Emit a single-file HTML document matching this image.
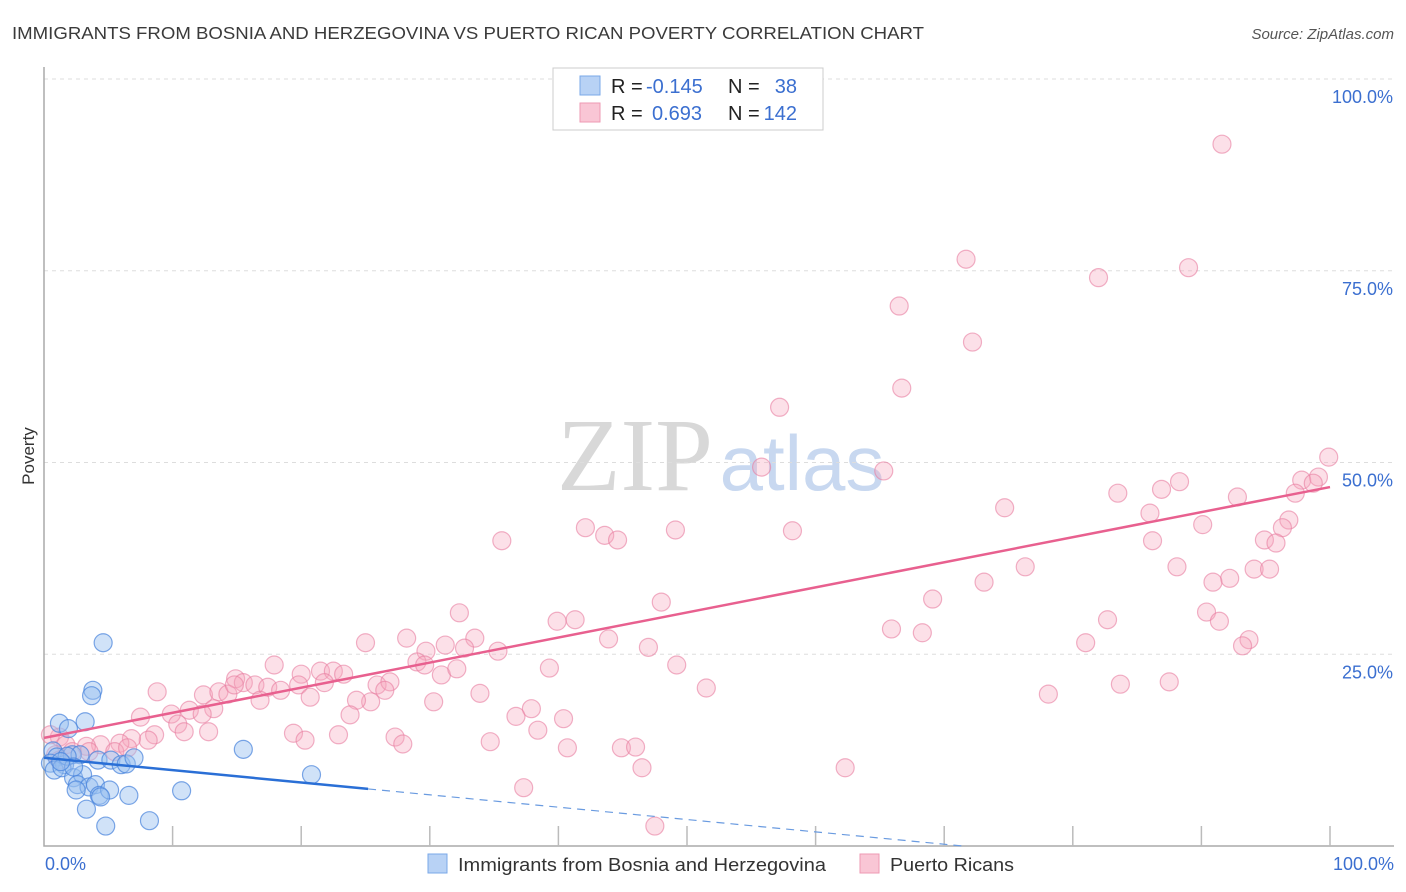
<!DOCTYPE html>
<html><head><meta charset="utf-8">
<style>
body{margin:0;background:#fff;font-family:"Liberation Sans",sans-serif;}
#wrap{position:relative;width:1406px;height:892px;overflow:hidden;}
</style></head>
<body>
<div id="wrap">
<svg id="svg" width="1406" height="892" xmlns="http://www.w3.org/2000/svg">
<text x="12" y="39" font-size="17.5" fill="#3a3a3a" textLength="912" lengthAdjust="spacingAndGlyphs">IMMIGRANTS FROM BOSNIA AND HERZEGOVINA VS PUERTO RICAN POVERTY CORRELATION CHART</text>
<text x="1394" y="39" font-size="15" font-style="italic" fill="#555" text-anchor="end">Source: ZipAtlas.com</text>
<text x="635" y="490" font-size="104" font-family="Liberation Serif,serif" fill="#d8d8d8" text-anchor="middle">ZIP</text>
<text x="802" y="490" font-size="78" fill="#c8d8f0" text-anchor="middle">atlas</text>
<text x="34" y="456" font-size="17" fill="#333" text-anchor="middle" transform="rotate(-90 34 456)">Poverty</text>
<g id="grid"></g>
<g id="pink"></g>
<g id="blue"></g>
<g id="lines"></g>
<g id="legend-top">
<rect x="553" y="68" width="270" height="62" fill="#fff" stroke="#ccc"/>
<rect x="580" y="76" width="20" height="19" fill="#b8d2f5" stroke="#7aa8e8"/>
<rect x="580" y="103" width="20" height="19" fill="#f9c6d5" stroke="#ee99b3"/>
<text x="611" y="93" font-size="20" fill="#222">R = </text><text x="646" y="93" font-size="20" fill="#3b6fd0">-0.145</text>
<text x="728" y="93" font-size="20" fill="#222">N = </text><text x="797" y="93" font-size="20" fill="#3b6fd0" text-anchor="end">38</text>
<text x="611" y="120" font-size="20" fill="#222">R = </text><text x="652" y="120" font-size="20" fill="#3b6fd0">0.693</text>
<text x="728" y="120" font-size="20" fill="#222">N = </text><text x="797" y="120" font-size="20" fill="#3b6fd0" text-anchor="end">142</text>
</g>
<g>
<rect x="428" y="854" width="19" height="19" fill="#b8d2f5" stroke="#7aa8e8"/>
<text x="458" y="871" font-size="18.5" fill="#333" textLength="368" lengthAdjust="spacingAndGlyphs">Immigrants from Bosnia and Herzegovina</text>
<rect x="860" y="854" width="19" height="19" fill="#f9c6d5" stroke="#ee99b3"/>
<text x="890" y="871" font-size="18.5" fill="#333" textLength="124" lengthAdjust="spacingAndGlyphs">Puerto Ricans</text>
</g>
</svg>
</div>
<script>
const pinkX=[91.6,71.7,82.0,89.0,66.5,72.2,66.7,57.2,55.8,65.3,99.9,99.1,97.8,98.7,97.3,83.5,86.9,88.3,92.8,86.0,74.7,96.8,96.3,94.9,95.8,90.1,86.2,42.1,43.6,44.6,49.1,58.2,35.6,76.3,88.1,94.1,95.3,92.2,90.9,73.1,69.1,90.4,91.4,82.7,48.0,32.3,39.9,41.3,65.9,68.3,93.7,93.2,81.0,43.9,47.0,25.0,28.2,31.2,33.5,29.7,32.7,35.3,29.0,29.6,17.9,20.0,21.5,22.5,23.3,19.8,25.9,26.9,26.5,30.9,32.1,39.3,49.2,14.9,15.5,16.4,17.4,18.4,21.8,20.7,12.4,13.6,14.3,14.8,8.8,16.8,25.4,24.3,30.3,33.9,37.9,36.7,51.5,78.1,83.7,87.5,13.2,11.3,12.3,7.5,9.9,10.4,23.8,40.4,10.9,12.8,19.4,20.3,22.9,27.3,27.9,38.4,8.6,8.1,6.8,5.9,4.4,3.3,5.5,6.5,3.5,34.7,40.7,44.9,46.0,46.5,62.3,37.3,47.5,1.2,1.7,2.2,0.9,1.2,0.5];
const pinkY=[91.5,76.5,74.1,75.4,70.4,65.7,59.7,57.2,49.4,48.9,50.7,48.1,47.7,47.3,46.0,46.0,46.5,47.5,45.5,43.4,44.1,42.5,41.5,39.9,39.5,41.9,39.8,41.5,40.5,39.9,41.2,41.1,39.8,36.4,36.4,36.1,36.1,34.9,34.4,34.4,32.2,30.5,29.3,29.5,31.8,30.4,29.3,29.5,28.3,27.8,26.9,26.1,26.5,27.0,25.9,26.5,27.1,26.2,27.1,25.4,25.8,25.4,24.0,23.6,23.6,22.4,22.8,22.8,22.4,21.0,21.0,21.4,20.3,22.3,23.1,23.2,23.6,21.8,21.3,21.0,20.7,20.3,21.3,19.4,19.7,20.1,19.8,21.0,20.1,19.0,18.8,19.0,18.8,19.9,17.9,16.9,20.6,19.8,21.1,21.4,17.9,17.7,17.2,16.8,17.2,15.9,17.1,16.6,14.9,14.9,14.7,13.8,14.5,14.2,13.3,15.1,14.5,13.8,14.0,13.4,13.2,13.0,12.3,12.8,12.3,13.6,12.8,12.8,12.9,10.2,10.2,7.6,2.6,14.2,13.2,12.3,11.9,11.2,14.5];
const blueX=[4.6,3.8,3.7,3.2,1.2,1.9,15.5,20.8,0.7,1.0,0.5,1.6,0.8,1.4,2.2,2.8,4.2,5.2,6.0,6.4,7.0,2.3,3.0,2.6,3.5,4.0,4.3,5.1,6.6,10.7,3.3,4.8,8.2,1.8,2.3,1.3,2.5,4.4];
const blueY=[26.5,20.3,19.6,16.2,16.0,15.3,12.6,9.3,12.4,11.6,10.8,10.6,9.9,10.2,11.9,11.9,11.2,11.2,10.6,10.7,11.5,8.9,9.3,8.0,7.7,8.0,6.6,7.3,6.6,7.2,4.8,2.6,3.3,11.7,10.3,11.0,7.3,6.4];
const yTicks=[25,50,75,100];
const yTickLabels=["25.0%","50.0%","75.0%","100.0%"];
const xTicks=[0,10,20,30,40,50,60,70,80,90,100];
const pinkFit=[14.1,46.8];
const blueFit=[11.5,-4.6];
const blueSolidEnd=25.2;

const NS="http://www.w3.org/2000/svg";
const X0=44,X1=1330,Y0=846,Y1=79;
const sx=v=>X0+(X1-X0)*v/100;
const sy=v=>Y0-(Y0-Y1)*v/100;
function mk(tag,attrs,parent){const e=document.createElementNS(NS,tag);for(const k in attrs)e.setAttribute(k,attrs[k]);parent.appendChild(e);return e;}
const grid=document.getElementById('grid');
yTicks.forEach((t,i)=>{
  const l=mk('line',{x1:X0,x2:1394,y1:sy(t),y2:sy(t),stroke:'#ddd','stroke-dasharray':'4,4'},grid);
  
  
  const tx=mk('text',{x:1393,y:sy(t)+24,'font-size':18,fill:'#3b6fd0','text-anchor':'end'},grid);
  tx.textContent=yTickLabels[i];
  
  
});
const ax=mk('path',{d:`M${X0},67 V${Y0} H1394`,stroke:'#aaa',fill:'none','stroke-width':1.5},grid);


xTicks.forEach(t=>{
  if(t===0)return;
  const l=mk('line',{x1:sx(t),x2:sx(t),y1:826,y2:Y0,stroke:'#bbb','stroke-width':1.5},grid);
  
  
});
const xl0=mk('text',{x:45,y:870,'font-size':18,fill:'#3b6fd0'},grid);xl0.textContent='0.0%';


const xl1=mk('text',{x:1394,y:870,'font-size':18,fill:'#3b6fd0','text-anchor':'end'},grid);xl1.textContent='100.0%';



const pg=document.getElementById('pink');
pinkX.forEach((x,i)=>{
  const c=mk('circle',{cx:sx(x),cy:sy(pinkY[i]),r:9,fill:'rgba(245,165,190,0.35)',stroke:'rgba(232,125,160,0.6)','stroke-width':1.2},pg);
  
  
});
const bg=document.getElementById('blue');
blueX.forEach((x,i)=>{
  const c=mk('circle',{cx:sx(x),cy:sy(blueY[i]),r:9,fill:'rgba(150,190,240,0.45)',stroke:'rgba(70,130,220,0.7)','stroke-width':1.2},bg);
  
  
});
const lg=document.getElementById('lines');
const pf=x=>pinkFit[0]+(pinkFit[1]-pinkFit[0])*x/100;
const bf=x=>blueFit[0]+(blueFit[1]-blueFit[0])*x/100;
const pl=mk('line',{x1:sx(0),y1:sy(pf(0)),x2:sx(100),y2:sy(pf(100)),stroke:'#e8608f','stroke-width':2.5},lg);


const bl=mk('line',{x1:sx(0),y1:sy(bf(0)),x2:sx(blueSolidEnd),y2:sy(bf(blueSolidEnd)),stroke:'#2a6fd6','stroke-width':2.5},lg);


const zeroX=-blueFit[0]/(blueFit[1]-blueFit[0])*100;
const bd=mk('line',{x1:sx(blueSolidEnd),y1:sy(bf(blueSolidEnd)),x2:sx(zeroX),y2:sy(0),stroke:'#6a9be0','stroke-width':1.2,'stroke-dasharray':'8,6'},lg);


</script>
</body></html>
